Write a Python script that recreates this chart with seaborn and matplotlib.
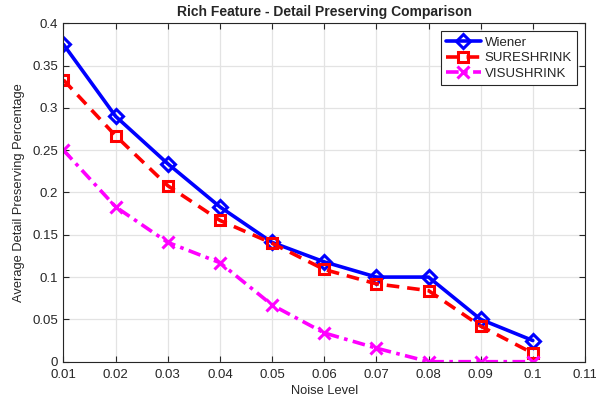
import matplotlib
matplotlib.use("Agg")
import matplotlib.pyplot as plt
import seaborn as sns
import pandas as pd

noise = [0.01, 0.02, 0.03, 0.04, 0.05, 0.06, 0.07, 0.08, 0.09, 0.10]
wiener = [0.375, 0.290, 0.234, 0.183, 0.141, 0.118, 0.100, 0.100, 0.050, 0.025]
sureshrink = [0.333, 0.267, 0.208, 0.167, 0.140, 0.109, 0.092, 0.084, 0.042, 0.010]
visushrink = [0.250, 0.183, 0.141, 0.117, 0.067, 0.034, 0.016, 0.0, 0.0, 0.0]
xticks = [0.01, 0.02, 0.03, 0.04, 0.05, 0.06, 0.07, 0.08, 0.09, 0.1, 0.11]
yticks = [0, 0.05, 0.1, 0.15, 0.2, 0.25, 0.3, 0.35, 0.4]

sns.set_style("ticks")
plt.rcParams['font.family'] = ['Liberation Sans', 'DejaVu Sans']

fig = plt.figure(figsize=(5.96, 4.08), dpi=100)
ax = fig.add_axes([0.1065, 0.1135, 0.875, 0.8295])

series = [
    ("Wiener", wiener, "#0000ff", "-", "D", 7),
    ("SURESHRINK", sureshrink, "#ff0000", (0, (3.5, 2.2)), "s", 7),
    ("VISUSHRINK", visushrink, "#ff00ff", (0, (3.5, 1.5, 1, 1.5)), "x", 9),
]
for name, vals, col, ls, mk, ms in series:
    df = pd.DataFrame({"x": noise, "y": vals})
    sns.lineplot(data=df, x="x", y="y", ax=ax, color=col, linestyle=ls, linewidth=2.6,
                 marker=mk, markersize=ms, markerfacecolor="none", markeredgecolor=col,
                 markeredgewidth=2.2, label=name)

ax.set_xlim(0.01, 0.11)
ax.set_ylim(0, 0.4)
ax.set_xticks(xticks)
ax.set_xticklabels([f"{t:g}" for t in xticks])
ax.set_yticks(yticks)
ax.set_yticklabels([f"{t:g}" for t in yticks])
ax.grid(True, color="#e3e3e3", linewidth=0.9)
ax.set_axisbelow(True)
for s in ax.spines.values():
    s.set_color("#262626")
    s.set_linewidth(0.8)
    s.set_visible(True)
ax.tick_params(direction="in", top=True, right=True, length=4, width=0.8,
               colors="#262626", labelsize=9.5)
ax.tick_params(axis="y", pad=4)
ax.tick_params(axis="x", pad=5)
ax.set_xlabel("Noise Level", fontsize=9.3, color="#262626", labelpad=3)
ax.set_ylabel("Average Detail Preserving Percentage", fontsize=9.3, color="#262626", labelpad=5)
ax.set_title("Rich Feature - Detail Preserving Comparison", fontsize=10, fontweight="bold", pad=5)

leg = ax.legend(loc="upper right", fontsize=9.5, frameon=True, fancybox=False,
                edgecolor="#262626", framealpha=1, borderpad=0.4, handlelength=2.6,
                handletextpad=0.3, labelspacing=0.25, borderaxespad=0.6)
leg.get_frame().set_linewidth(0.8)

fig.savefig("out.png", dpi=100)
